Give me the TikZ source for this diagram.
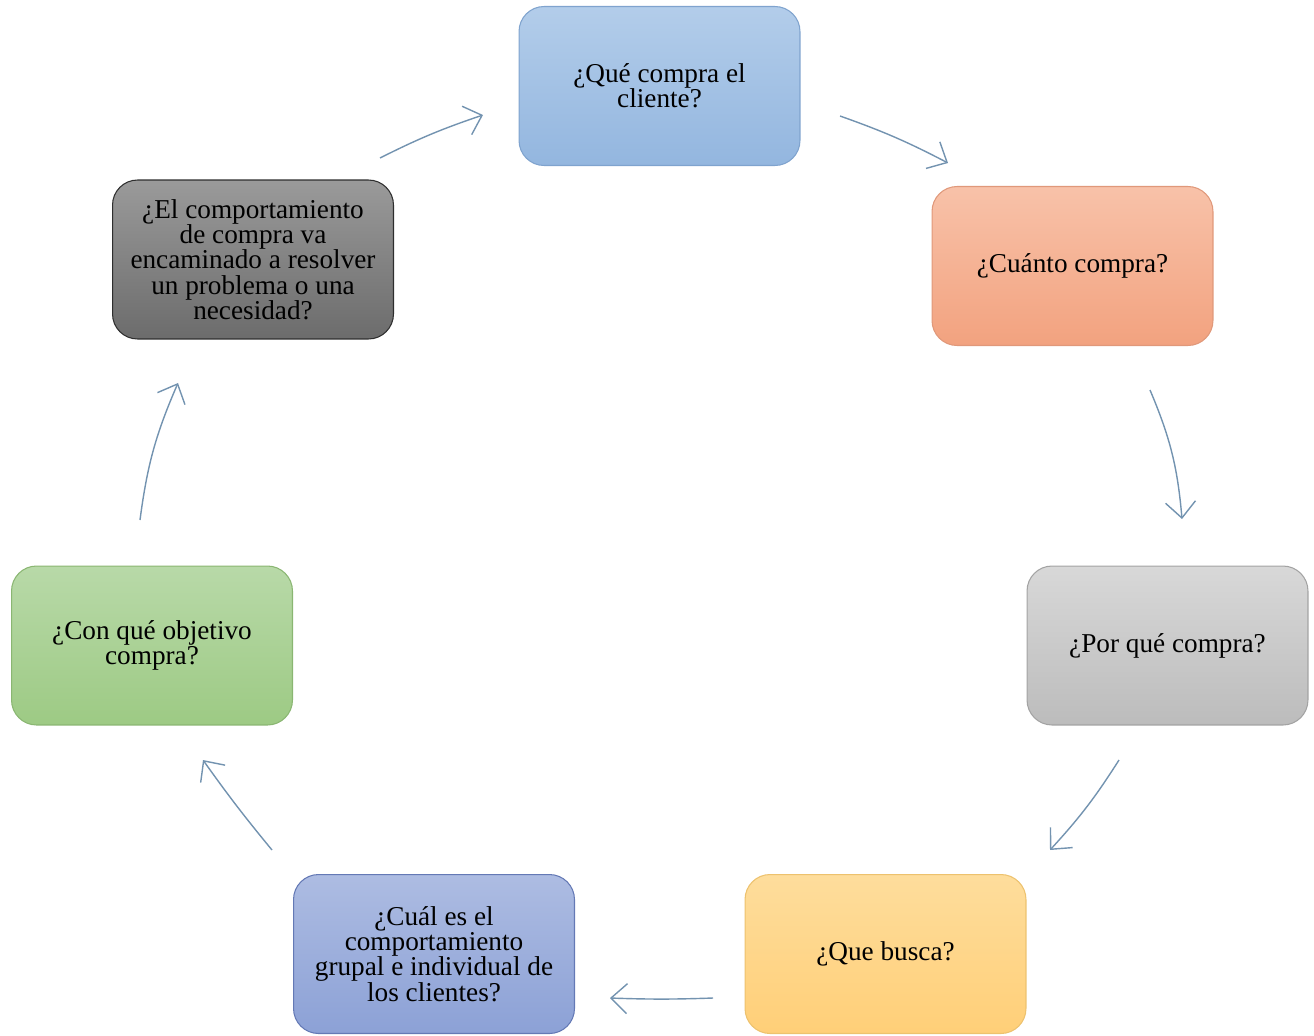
\documentclass[tikz,border=0pt]{standalone}
\usepackage{fontspec}
\setmainfont{Liberation Serif}
\usepackage{tikz}
\usetikzlibrary{arrows.meta}

\definecolor{azulA}{HTML}{B3CDEA}
\definecolor{azulB}{HTML}{93B6DF}
\definecolor{azulL}{HTML}{7FA3CE}
\definecolor{naranjaA}{HTML}{F8C2A9}
\definecolor{naranjaB}{HTML}{F2A27F}
\definecolor{naranjaL}{HTML}{E0987A}
\definecolor{grisA}{HTML}{D8D8D8}
\definecolor{grisB}{HTML}{BCBCBC}
\definecolor{grisL}{HTML}{A3A3A3}
\definecolor{amarilloA}{HTML}{FEDD9C}
\definecolor{amarilloB}{HTML}{FFCF78}
\definecolor{amarilloL}{HTML}{EDC26E}
\definecolor{moradoA}{HTML}{ADBCE2}
\definecolor{moradoB}{HTML}{8CA1D6}
\definecolor{moradoL}{HTML}{6479B5}
\definecolor{verdeA}{HTML}{B8D9A8}
\definecolor{verdeB}{HTML}{9DCA84}
\definecolor{verdeL}{HTML}{8AB672}
\definecolor{oscuroA}{HTML}{9A9A9A}
\definecolor{oscuroB}{HTML}{6C6C6C}
\definecolor{oscuroL}{HTML}{2E2E2E}
\definecolor{flechagris}{HTML}{7393B0}

\begin{document}
\begin{tikzpicture}[x=0.02cm,y=-0.02cm,
  caja/.style={rounded corners=0.5cm, minimum width=5.62cm, minimum height=3.18cm,
    inner sep=0pt, align=center, line width=0.6pt,
    font=\fontsize{15.5}{14.4}\selectfont},
  flecha/.style={draw=flechagris, line width=0.8pt,
    -{Straight Barb[length=3.2mm,width=6mm]}}]
  \useasboundingbox (0,0) rectangle (1314,1035);

  \node[caja, draw=azulL, top color=azulA, bottom color=azulB] (Que) at (659.5,86)
    {¿Qué compra el\\cliente?};
  \node[caja, draw=naranjaL, top color=naranjaA, bottom color=naranjaB] (Cuanto) at (1072.5,266)
    {¿Cuánto compra?};
  \node[caja, draw=grisL, top color=grisA, bottom color=grisB] (Porque) at (1167.5,645.5)
    {¿Por qué compra?};
  \node[caja, draw=amarilloL, top color=amarilloA, bottom color=amarilloB] (Busca) at (885.5,954)
    {¿Que busca?};
  \node[caja, draw=moradoL, top color=moradoA, bottom color=moradoB] (Cual) at (434,954)
    {¿Cuál es el\\comportamiento\\grupal e individual de\\los clientes?};
  \node[caja, draw=verdeL, top color=verdeA, bottom color=verdeB] (Objetivo) at (152,645.5)
    {¿Con qué objetivo\\compra?};
  \node[caja, draw=oscuroL, top color=oscuroA, bottom color=oscuroB] (Problema) at (253,259.5)
    {¿El comportamiento\\de compra va\\encaminado a resolver\\un problema o una\\necesidad?};

  % puntas de las flechas
  \coordinate (P1) at (380,158);  \coordinate (Q1) at (483,115);
  \coordinate (P2) at (840,116);  \coordinate (Q2) at (948,163);
  \coordinate (P3) at (1150,390); \coordinate (Q3) at (1182,519);
  \coordinate (P4) at (1119,760); \coordinate (Q4) at (1050,850);
  \coordinate (P5) at (713,998);  \coordinate (Q5) at (610,998);
  \coordinate (P6) at (272,850);  \coordinate (Q6) at (203,760);
  \coordinate (P7) at (140,520);  \coordinate (Q7) at (178,383);

  \draw[flecha] (P1) to[bend left=4] (Q1);
  \draw[flecha] (P2) to[bend left=4] (Q2);
  \draw[flecha] (P3) to[bend left=9] (Q3);
  \draw[flecha] (P4) to[bend left=5] (Q4);
  \draw[flecha] (P5) to[bend left=2] (Q5);
  \draw[flecha] (P6) to[bend left=2] (Q6);
  \draw[flecha] (P7) to[bend left=8] (Q7);
\end{tikzpicture}
\end{document}
